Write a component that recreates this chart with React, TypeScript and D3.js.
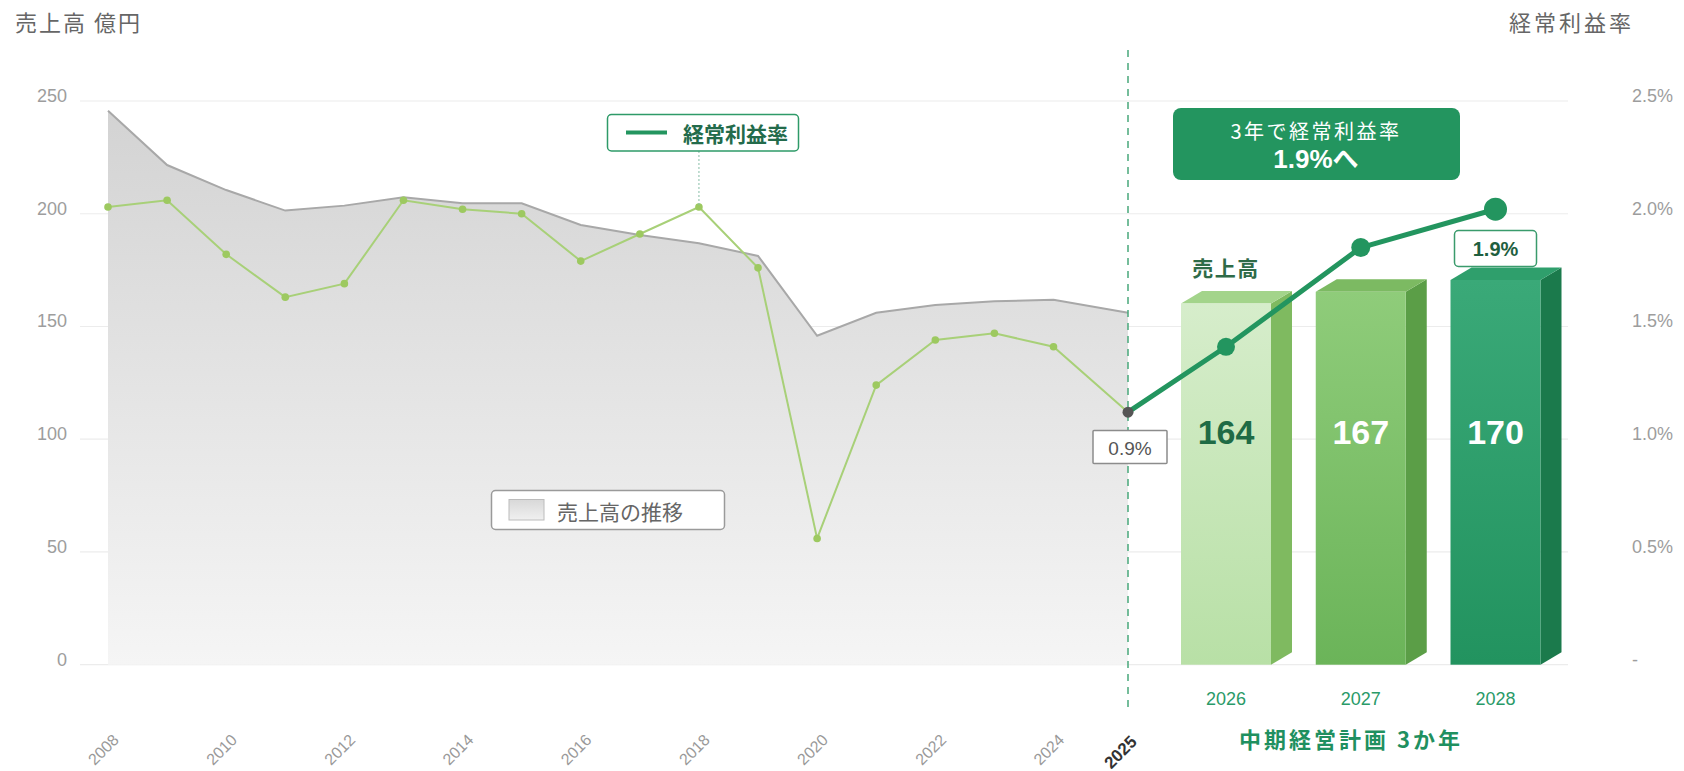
import React from 'react';
import * as d3 from 'd3';

// ---- data ----
const histYears = [2008, 2009, 2010, 2011, 2012, 2013, 2014, 2015, 2016, 2017, 2018, 2019, 2020, 2021, 2022, 2023, 2024, 2025];
const salesHist = [245.7, 221.6, 210.5, 201.4, 203.6, 207.3, 204.6, 204.6, 195.0, 190.6, 186.9, 181.3, 145.9, 156.1, 159.5, 161.2, 161.8, 156.1];
const rateHist = [2.03, 2.06, 1.82, 1.63, 1.69, 2.06, 2.02, 2.0, 1.79, 1.91, 2.03, 1.76, 0.56, 1.24, 1.44, 1.47, 1.41, 1.12];
const planYears = ['2026', '2027', '2028'];
const planSales = [164, 167, 170];
const planRate = [1.41, 1.85, 2.02];
const leftTicks = [0, 50, 100, 150, 200, 250];
const rightTicks = [0, 0.5, 1.0, 1.5, 2.0, 2.5];
const rightTickLabels = ['-', '0.5%', '1.0%', '1.5%', '2.0%', '2.5%'];
const xLabelYears = [2008, 2010, 2012, 2014, 2016, 2018, 2020, 2022, 2024];
const currentYear = 2025;
const currentRateLabel = '0.9%';
const targetRateLabel = '1.9%';
const legendYear = 2018;

const NUM = "'Liberation Sans', Arial, 'Noto Sans CJK JP', sans-serif";
const JP = "'Noto Sans CJK JP', 'Liberation Sans', sans-serif";

const barColors = [
  { top: '#a3d48b', side: '#7fba60', f1: '#d6edcb', f2: '#b8e0a6', label: '#1f6b45' },
  { top: '#7cba62', side: '#5b9e47', f1: '#8fcc7a', f2: '#6bb459', label: '#ffffff' },
  { top: '#2f9f6c', side: '#1b7a4c', f1: '#3aa978', f2: '#22935f', label: '#ffffff' },
];

export default function App() {
  const W = 1684;
  const H = 771;
  const y0 = 664.7;
  const yTop = 101;
  const yL = d3.scaleLinear().domain([0, 250]).range([y0, yTop]);
  const yR = d3.scaleLinear().domain([0, 2.5]).range([y0, yTop]);
  const xH = d3.scaleLinear().domain([2008, 2024, 2025]).range([108, 1053.5, 1128]);
  const xP = d3.scalePoint<string>().domain(planYears).range([1226, 1495.5]);
  const yBar = d3.scaleLinear().domain([164, 170]).range([303.5, 280]);
  const barW = 90;
  const dx = 21;
  const dy = 12.5;
  const gridX0 = 80;
  const gridX1 = 1568;
  const divX = xH(currentYear);

  const area = d3
    .area<number>()
    .x((_, i) => xH(histYears[i]))
    .y0(y0)
    .y1((d) => yL(d));
  const topLine = d3
    .line<number>()
    .x((_, i) => xH(histYears[i]))
    .y((d) => yL(d));
  const rateLine = d3
    .line<number>()
    .x((_, i) => xH(histYears[i]))
    .y((d) => yR(d));

  const lastRate = rateHist[rateHist.length - 1];
  const planPts: [number, number][] = [
    [xH(currentYear), yR(lastRate)],
    ...planYears.map((y, i) => [xP(y) as number, yR(planRate[i])] as [number, number]),
  ];
  const planLine = d3.line();
  const planR = [9, 9.5, 11.5];

  return (
    <svg width={W} height={H} style={{ position: 'absolute', left: 0, top: 0, background: '#fff' }}>
      <defs>
        <linearGradient id="areaGrad" x1="0" y1="0" x2="0" y2="1">
          <stop offset="0%" stopColor="#d3d3d3" />
          <stop offset="100%" stopColor="#f5f5f5" />
        </linearGradient>
        <linearGradient id="swatchGrad" x1="0" y1="0" x2="0" y2="1">
          <stop offset="0%" stopColor="#d8d8d8" />
          <stop offset="100%" stopColor="#f0f0f0" />
        </linearGradient>
        {barColors.map((c, i) => (
          <linearGradient key={i} id={`barGrad${i}`} x1="0" y1="0" x2="0" y2="1">
            <stop offset="0%" stopColor={c.f1} />
            <stop offset="100%" stopColor={c.f2} />
          </linearGradient>
        ))}
      </defs>

      {/* axis titles */}
      <text x={15} y={21} fontFamily={JP} fontSize={22} fill="#666" dominantBaseline="central" letterSpacing={2}>
        売上高 億円
      </text>
      <text x={1509} y={21} fontFamily={JP} fontSize={22} fill="#666" dominantBaseline="central" letterSpacing={3}>
        経常利益率
      </text>

      {/* gridlines */}
      {leftTicks.map((t) => (
        <line key={t} x1={gridX0} x2={gridX1} y1={yL(t)} y2={yL(t)} stroke="#ececec" strokeWidth={1.2} />
      ))}

      {/* left tick labels */}
      {leftTicks.map((t) => (
        <text key={t} x={67} y={yL(t) - 5} textAnchor="end" dominantBaseline="central" fontFamily={NUM} fontSize={18} fill="#9d9d9d">
          {t}
        </text>
      ))}
      {/* right tick labels */}
      {rightTicks.map((t, i) => (
        <text key={t} x={1632} y={yR(t) - 5} textAnchor="start" dominantBaseline="central" fontFamily={NUM} fontSize={18} fill="#9d9d9d">
          {rightTickLabels[i]}
        </text>
      ))}

      {/* sales area */}
      <path d={area(salesHist) || ''} fill="url(#areaGrad)" />
      <path d={topLine(salesHist) || ''} fill="none" stroke="#a8a8a8" strokeWidth={2} />

      {/* divider */}
      <line x1={divX} x2={divX} y1={50} y2={709} stroke="#48a87b" strokeWidth={1.5} strokeDasharray="7,6" />

      {/* historical rate line */}
      <path d={rateLine(rateHist) || ''} fill="none" stroke="#a8d078" strokeWidth={2} />
      {rateHist.slice(0, -1).map((r, i) => (
        <circle key={i} cx={xH(histYears[i])} cy={yR(r)} r={3.8} fill="#9dc960" />
      ))}

      {/* 3D bars */}
      {planYears.map((y, i) => {
        const cx = xP(y) as number;
        const x0 = cx - barW / 2;
        const x1 = cx + barW / 2;
        const top = yBar(planSales[i]);
        const c = barColors[i];
        const topFace = `M${x0},${top} L${x0 + dx},${top - dy} L${x1 + dx},${top - dy} L${x1},${top} Z`;
        const sideFace = `M${x1},${top} L${x1 + dx},${top - dy} L${x1 + dx},${y0 - dy} L${x1},${y0} Z`;
        return (
          <g key={y}>
            <path d={sideFace} fill={c.side} />
            <path d={topFace} fill={c.top} />
            <rect x={x0} y={top} width={barW} height={y0 - top} fill={`url(#barGrad${i})`} />
            <text x={cx} y={432} textAnchor="middle" dominantBaseline="central" fontFamily={NUM} fontWeight="bold" fontSize={34} fill={c.label}>
              {planSales[i]}
            </text>
            <text x={cx} y={699} textAnchor="middle" dominantBaseline="central" fontFamily={NUM} fontSize={18} fill="#2a9a68">
              {y}
            </text>
          </g>
        );
      })}

      {/* 売上高 label above first bar */}
      <text x={xP(planYears[0]) as number} y={267} textAnchor="middle" dominantBaseline="central" fontFamily={JP} fontWeight="bold" fontSize={21} letterSpacing={1.5} fill="#2f6b48">
        売上高
      </text>

      {/* plan rate line */}
      <path d={planLine(planPts) || ''} fill="none" stroke="#23955f" strokeWidth={5} strokeLinejoin="round" />
      {planPts.slice(1).map((p, i) => (
        <circle key={i} cx={p[0]} cy={p[1]} r={planR[i]} fill="#23955f" />
      ))}
      <circle cx={planPts[0][0]} cy={planPts[0][1]} r={5.5} fill="#555" />

      {/* 0.9% label */}
      <rect x={1093} y={430.5} width={74} height={33} fill="#fff" stroke="#8c8c8c" strokeWidth={1.5} rx={1} />
      <text x={1130} y={448} textAnchor="middle" dominantBaseline="central" fontFamily={NUM} fontSize={19} fill="#555">
        {currentRateLabel}
      </text>

      {/* 1.9% label */}
      <rect x={1454.5} y={230.5} width={82} height={36} fill="#fff" stroke="#3a9b6c" strokeWidth={1.5} rx={4} />
      <text x={1495.5} y={249} textAnchor="middle" dominantBaseline="central" fontFamily={NUM} fontWeight="bold" fontSize={20} fill="#1f5f3f">
        {targetRateLabel}
      </text>

      {/* callout */}
      <rect x={1173} y={108} width={287} height={72} rx={8} fill="#23955f" />
      <text x={1316} y={130} textAnchor="middle" dominantBaseline="central" fontFamily={JP} fontSize={20} letterSpacing={2.5} fill="#fff">
        3年で経常利益率
      </text>
      <text x={1316} y={158.5} textAnchor="middle" dominantBaseline="central" fontFamily={NUM} fontWeight="bold" fontSize={26} fill="#fff">
        1.9%へ
      </text>

      {/* rate legend */}
      <line x1={xH(legendYear)} x2={xH(legendYear)} y1={151} y2={yR(rateHist[histYears.indexOf(legendYear)])} stroke="#86bda6" strokeWidth={1} strokeDasharray="2,2" />
      <rect x={607.5} y={114.5} width={191} height={36.5} rx={4} fill="#fff" stroke="#2e9a68" strokeWidth={1.5} />
      <line x1={626} x2={667} y1={132.5} y2={132.5} stroke="#23955f" strokeWidth={4} />
      <text x={683} y={133} dominantBaseline="central" fontFamily={JP} fontWeight="bold" fontSize={21} fill="#236b4b">
        経常利益率
      </text>

      {/* sales legend */}
      <rect x={491.5} y={490.5} width={233} height={39} rx={4} fill="#fff" stroke="#9a9a9a" strokeWidth={1.5} />
      <rect x={509} y={499.5} width={35} height={20.5} fill="url(#swatchGrad)" stroke="#bcbcbc" strokeWidth={1} />
      <text x={557} y={510.5} dominantBaseline="central" fontFamily={JP} fontSize={21} fill="#666">
        売上高の推移
      </text>

      {/* x labels historical */}
      {xLabelYears.map((y) => (
        <text
          key={y}
          transform={`translate(${xH(y) + 8},${737}) rotate(-45)`}
          textAnchor="end"
          dominantBaseline="central"
          fontFamily={NUM}
          fontSize={16}
          fill="#999"
        >
          {y}
        </text>
      ))}
      <text
        transform={`translate(${divX + 6},${739}) rotate(-45)`}
        textAnchor="end"
        dominantBaseline="central"
        fontFamily={NUM}
        fontSize={17}
        fontWeight="bold"
        fill="#333"
      >
        {currentYear}
      </text>

      {/* plan caption */}
      <text x={1351} y={738} textAnchor="middle" dominantBaseline="central" fontFamily={JP} fontWeight="bold" fontSize={22} letterSpacing={3} fill="#1f9060">
        中期経営計画 3か年
      </text>
    </svg>
  );
}
